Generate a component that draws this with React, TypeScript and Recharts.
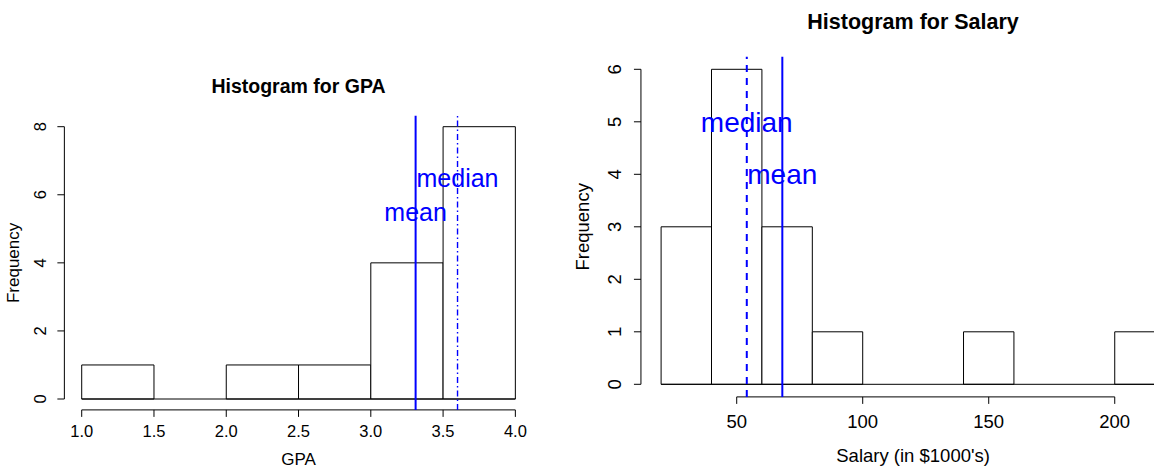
import React from "react";
import {
  ComposedChart,
  XAxis,
  YAxis,
  ReferenceArea,
  ReferenceLine,
  ReferenceDot,
} from "recharts";

const FONT = '"Liberation Sans", Arial, Helvetica, sans-serif';
const BLUE = "#0000ff";

// GPA histogram (bin edges + counts)
const gpaBreaks = [1.0, 1.5, 2.0, 2.5, 3.0, 3.5, 4.0];
const gpaCounts = [1, 0, 1, 1, 4, 8];
const gpaXTicks = [1.0, 1.5, 2.0, 2.5, 3.0, 3.5, 4.0];
const gpaYTicks = [0, 2, 4, 6, 8];
const gpaMean = 3.31;
const gpaMedian = 3.6;
const gpaMeanTextY = 5.5;
const gpaMedianTextY = 6.5;

// Salary histogram (in $1000's)
const salaryBreaks = [20, 40, 60, 80, 100, 120, 140, 160, 180, 200, 220];
const salaryCounts = [3, 6, 3, 1, 0, 0, 1, 0, 0, 1];
const salaryXTicks = [50, 100, 150, 200];
const salaryYTicks = [0, 1, 2, 3, 4, 5, 6];
const salaryMean = 68.1;
const salaryMedian = 54;
const salaryMeanTextY = 4;
const salaryMedianTextY = 5;

// R-style 4% axis padding
const pad = (lo: number, hi: number): [number, number] => {
  const d = (hi - lo) * 0.04;
  return [lo - d, hi + d];
};

const makeXTick = (fs: number, fmt: (v: number) => string) => (props: any) => {
  const { x, y, payload } = props;
  return (
    <text x={x} y={y} dy='0.36em' textAnchor='middle' fontSize={fs} fontFamily={FONT} fill='#000'>
      {fmt(payload.value)}
    </text>
  );
};

const makeYTick = (fs: number) => (props: any) => {
  const { x, y, payload } = props;
  return (
    <text
      x={x}
      y={y}
      dy='0.36em'
      transform={`rotate(-90 ${x} ${y})`}
      textAnchor='middle'
      fontSize={fs}
      fontFamily={FONT}
      fill='#000'>
      {String(payload.value)}
    </text>
  );
};

type HistProps = {
  breaks: number[];
  counts: number[];
  xTicks: number[];
  yTicks: number[];
  mean: number;
  median: number;
  meanY: number;
  medianY: number;
  fmtX: (v: number) => string;
  width: number;
  height: number;
  margin: { top: number; right: number; bottom: number; left: number };
  xAxisHeight: number;
  tickFont: number;
  annFont: number;
  xTickGap: number;
  yTickGap: number;
  medianDash: string;
  medianWidth: number;
};

const Histogram = (p: HistProps) => {
  const bins = p.counts.map((c, i) => ({ lo: p.breaks[i], hi: p.breaks[i + 1], count: c }));
  const xDom = pad(p.breaks[0], p.breaks[p.breaks.length - 1]);
  const yDom = pad(0, Math.max(...p.counts));
  const lastBreak = p.breaks[p.breaks.length - 1];

  return (
    <ComposedChart width={p.width} height={p.height} margin={p.margin} data={bins}>
      <XAxis
        type='number'
        dataKey='lo'
        domain={xDom}
        ticks={p.xTicks}
        allowDataOverflow
        interval={0}
        axisLine={false}
        tickLine={{ stroke: "#000" }}
        tickSize={7}
        tickMargin={p.xTickGap}
        height={p.xAxisHeight}
        tick={makeXTick(p.tickFont, p.fmtX)}
      />
      <YAxis
        type='number'
        domain={yDom}
        ticks={p.yTicks}
        allowDataOverflow
        interval={0}
        axisLine={false}
        tickLine={{ stroke: "#000" }}
        tickSize={7}
        tickMargin={p.yTickGap}
        width={60}
        tick={makeYTick(p.tickFont)}
      />

      {/* bars */}
      {bins
        .filter((b) => b.count > 0)
        .map((b) => (
          <ReferenceArea
            key={`bin-${b.lo}`}
            x1={b.lo}
            x2={b.hi}
            y1={0}
            y2={b.count}
            fill='#fff'
            fillOpacity={1}
            stroke='#000'
            strokeWidth={1}
            ifOverflow='visible'
          />
        ))}
      {/* baseline under empty bins */}
      <ReferenceLine
        segment={[
          { x: p.breaks[0], y: 0 },
          { x: lastBreak, y: 0 },
        ]}
        stroke='#000'
        ifOverflow='visible'
      />

      {/* R style axis lines, only as long as the ticks */}
      <ReferenceLine
        segment={[
          { x: p.xTicks[0], y: yDom[0] },
          { x: p.xTicks[p.xTicks.length - 1], y: yDom[0] },
        ]}
        stroke='#000'
        ifOverflow='visible'
      />
      <ReferenceLine
        segment={[
          { x: xDom[0], y: p.yTicks[0] },
          { x: xDom[0], y: p.yTicks[p.yTicks.length - 1] },
        ]}
        stroke='#000'
        ifOverflow='visible'
      />

      <ReferenceLine
        x={p.median}
        stroke={BLUE}
        strokeOpacity={1}
        strokeWidth={p.medianWidth}
        strokeDasharray={p.medianDash}
      />
      <ReferenceLine x={p.mean} stroke={BLUE} strokeWidth={2} />

      <ReferenceDot
        x={p.median}
        y={p.medianY}
        r={0}
        fill='none'
        stroke='none'
        label={{ value: "median", position: "center", fill: BLUE, fontSize: p.annFont, fontFamily: FONT }}
      />
      <ReferenceDot
        x={p.mean}
        y={p.meanY}
        r={0}
        fill='none'
        stroke='none'
        label={{ value: "mean", position: "center", fill: BLUE, fontSize: p.annFont, fontFamily: FONT }}
      />
    </ComposedChart>
  );
};

const App = () => {
  return (
    <div
      style={{
        position: "absolute",
        left: 0,
        top: 0,
        width: 1154,
        height: 468,
        overflow: "hidden",
        background: "#fff",
        fontFamily: FONT,
      }}>
      <div style={{ position: "absolute", left: 0, top: 0 }}>
        <Histogram
          breaks={gpaBreaks}
          counts={gpaCounts}
          xTicks={gpaXTicks}
          yTicks={gpaYTicks}
          mean={gpaMean}
          median={gpaMedian}
          meanY={gpaMeanTextY}
          medianY={gpaMedianTextY}
          fmtX={(v) => v.toFixed(1)}
          width={570}
          height={468}
          margin={{ top: 115.8, right: 37.3, bottom: 0, left: 4.36 }}
          xAxisHeight={58.1}
          tickFont={16.5}
          annFont={25}
          xTickGap={14.1}
          yTickGap={16.9}
          medianDash='6 3 1.5 3'
          medianWidth={1.4}
        />
      </div>
      <div style={{ position: "absolute", left: 570, top: 0 }}>
        <Histogram
          breaks={salaryBreaks}
          counts={salaryCounts}
          xTicks={salaryXTicks}
          yTicks={salaryYTicks}
          mean={salaryMean}
          median={salaryMedian}
          meanY={salaryMeanTextY}
          medianY={salaryMedianTextY}
          fmtX={(v) => String(v)}
          width={640}
          height={468}
          margin={{ top: 56.7, right: 24.7, bottom: 0, left: 10.94 }}
          xAxisHeight={71.1}
          tickFont={18.5}
          annFont={28}
          xTickGap={17.8}
          yTickGap={19.9}
          medianDash='7 6'
          medianWidth={2}
        />
      </div>

      {/* titles and axis labels */}
      <svg
        width={1154}
        height={468}
        style={{ position: "absolute", left: 0, top: 0, pointerEvents: "none" }}>
        <g fontFamily={FONT} fill='#000' textAnchor='middle'>
          <text x={298.5} y={86.3} dy='0.36em' fontSize={19.5} fontWeight='bold'>
            Histogram for GPA
          </text>
          <text x={298.5} y={459} dy='0.36em' fontSize={17}>
            GPA
          </text>
          <text x={13} y={262.9} dy='0.36em' fontSize={17} transform='rotate(-90 13 262.9)'>
            Frequency
          </text>

          <text x={913.1} y={21.3} dy='0.36em' fontSize={21.5} fontWeight='bold'>
            Histogram for Salary
          </text>
          <text x={913.1} y={455.8} dy='0.36em' fontSize={18.5}>
            Salary (in $1000's)
          </text>
          <text x={582} y={226.8} dy='0.36em' fontSize={18.5} transform='rotate(-90 582 226.8)'>
            Frequency
          </text>
        </g>
      </svg>
    </div>
  );
};

export default App;
